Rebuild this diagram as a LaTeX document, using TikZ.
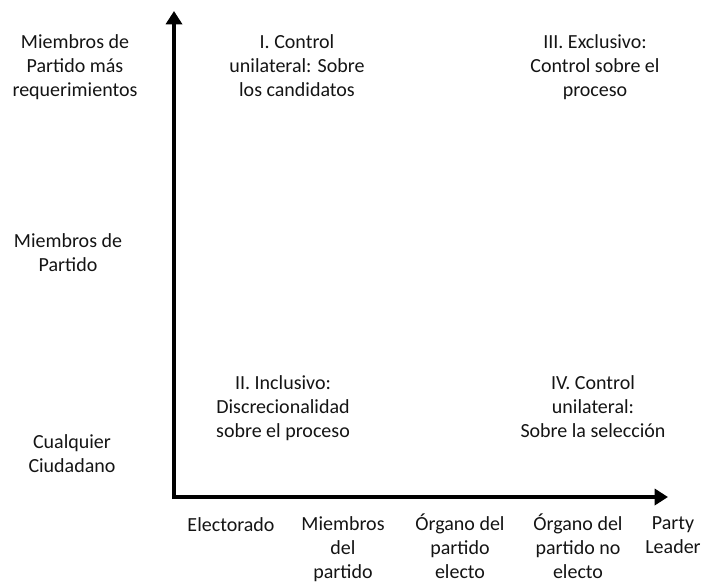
\documentclass[tikz,border=0pt]{standalone}
\usepackage{fontspec}
\setmainfont{Carlito}
\usetikzlibrary{arrows.meta}
\definecolor{txt}{HTML}{141414}
\tikzset{
  lab/.style={align=center, text=txt, font=\fontsize{15}{18}\selectfont, inner sep=0pt, anchor=north, execute at begin node={\vphantom{Ó}}},
  axis/.style={line width=3pt, -{Triangle[width=12pt,length=10pt]}}
}
\begin{document}
\begin{tikzpicture}[x=0.75pt,y=-0.75pt]
\useasboundingbox (0,0) rectangle (706,587);
\coordinate (o) at (174,497);
\coordinate (ytop) at (174,11);
\coordinate (xend) at (668,497);
\draw[axis] ([yshift=-1.5pt]o) -- (ytop);
\draw[axis] ([xshift=-1.5pt]o) -- (xend);
% y-axis labels
\node[lab] (y3) at (75,34) {Miembros de\\Partido más\\requerimientos};
\node[lab] (y2) at (68,233) {Miembros de\\Partido};
\node[lab] (y1) at (72,434) {Cualquier\\Ciudadano};
% quadrants
\node[lab] (q1) at (297,34) {I. Control\\unilateral: Sobre\\los candidatos};
\node[lab] (q3) at (595,34) {III. Exclusivo:\\Control sobre el\\proceso};
\node[lab] (q2) at (283,375) {II. Inclusivo:\\Discrecionalidad\\sobre el proceso};
\node[lab] (q4) at (593,375) {IV. Control\\unilateral:\\Sobre la selección};
% x-axis labels
\node[lab] (x1) at (231,515) {Electorado};
\node[lab] (x2) at (343,516) {Miembros\\del\\partido};
\node[lab] (x3) at (460,514) {Órgano del\\partido\\electo};
\node[lab] (x4) at (578,514) {Órgano del\\partido no\\electo};
\node[lab] (x5) at (673,516) {Party\\Leader};
\end{tikzpicture}
\end{document}
